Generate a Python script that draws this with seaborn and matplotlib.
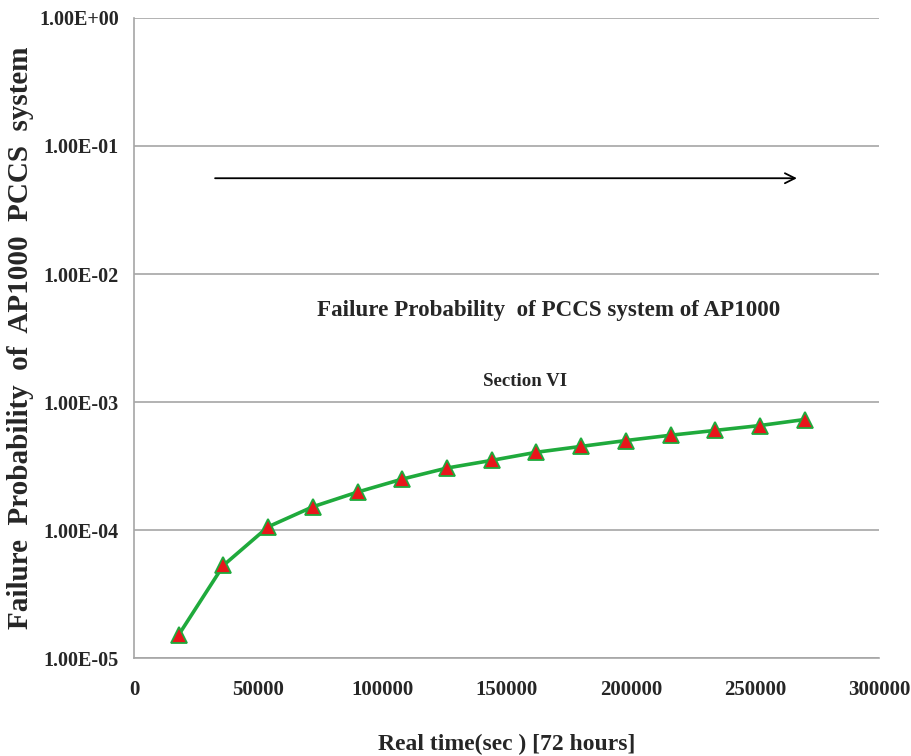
import matplotlib
matplotlib.use("Agg")
import matplotlib.pyplot as plt
import matplotlib.ticker as mticker
import numpy as np
import pandas as pd
import seaborn as sns

# values
real_time = [18000, 36000, 54000, 72000, 90000, 108000, 126000, 144000,
             162000, 180000, 198000, 216000, 234000, 252000, 270000]
failure_prob = [1.52e-5, 5.3e-5, 1.06e-4, 1.52e-4, 1.98e-4, 2.5e-4, 3.05e-4, 3.5e-4,
                4.05e-4, 4.5e-4, 5.0e-4, 5.5e-4, 6.0e-4, 6.55e-4, 7.3e-4]
x_ticks = [0, 50000, 100000, 150000, 200000, 250000, 300000]
y_ticks = [1e-5, 1e-4, 1e-3, 1e-2, 1e-1, 1e0]

df = pd.DataFrame({"time": real_time, "prob": failure_prob})

sns.set_style("white")
plt.rcParams['font.family'] = ['Liberation Serif', 'DejaVu Serif']
plt.rcParams['font.weight'] = 'bold'

fig = plt.figure(figsize=(9.12, 7.56), dpi=100)
ax = fig.add_axes([0.147, 0.1296, 0.817, 0.8466])

sns.lineplot(data=df, x="time", y="prob", ax=ax, color="#1faa3c", linewidth=2.6,
             marker="^", markersize=11, markerfacecolor="#e8161b",
             markeredgecolor="#1faa3c", markeredgewidth=1.3)

ax.set_yscale("log")
ax.set_ylim(1e-5, 1e0)
ax.set_xlim(0, 300000)
ax.set_xticks(x_ticks)
ax.set_yticks(y_ticks)
ax.yaxis.set_minor_locator(mticker.NullLocator())
ax.xaxis.set_major_formatter(mticker.FuncFormatter(lambda v, p: f"{int(v)}"))
ax.yaxis.set_major_formatter(mticker.FuncFormatter(lambda v, p: f"{v:.2E}"))

ax.grid(axis="y", color="#a6a6a6", linewidth=1.2)
ax.grid(axis="x", visible=False)
for s in ["top", "right"]:
    ax.spines[s].set_visible(False)
for s in ["left", "bottom"]:
    ax.spines[s].set_color("#a6a6a6")
    ax.spines[s].set_linewidth(1.2)

ax.tick_params(axis="both", direction="out", length=7, color="#a6a6a6", width=1.2,
               labelsize=14.5, pad=4)
ax.tick_params(axis="x", labelsize=15, pad=9)
for lbl in ax.get_xticklabels() + ax.get_yticklabels():
    lbl.set_fontweight("bold")

ax.set_xlabel("Real time(sec ) [72 hours]", fontsize=17, fontweight="bold", labelpad=24)
ax.set_ylabel("Failure  Probability  of  AP1000  PCCS  system", fontsize=21,
              fontweight="bold")
ax.yaxis.set_label_coords(-0.134, 0.5)

ax.annotate("", xy=(268000, 0.056), xytext=(31500, 0.056),
            arrowprops=dict(arrowstyle="->", color="black", lw=1.3,
                            mutation_scale=18))
ax.text(167000, 5.2e-3, "Failure Probability  of PCCS system of AP1000",
        fontsize=16.6, fontweight="bold", ha="center", va="center")
ax.text(157500, 1.45e-3, "Section VI", fontsize=13.6, fontweight="bold",
        ha="center", va="center")

fig.savefig("out.png", dpi=100)
